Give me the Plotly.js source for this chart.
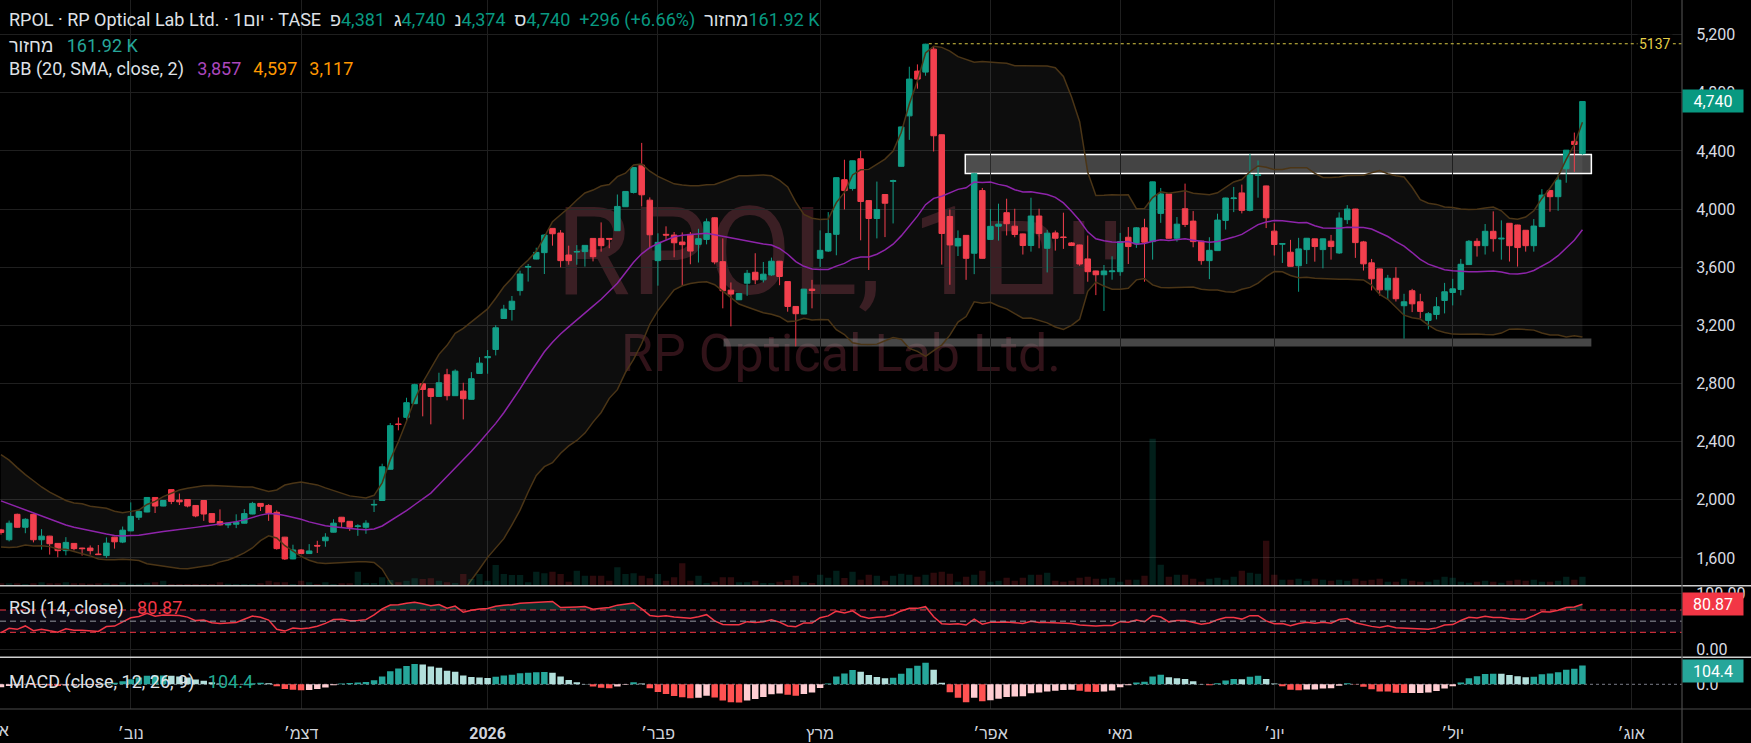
<!DOCTYPE html>
<html><head><meta charset="utf-8">
<script src="https://cdn.plot.ly/plotly-3.0.1.min.js"></script>
<style>
html,body{margin:0;padding:0;background:#000;overflow:hidden;}
#wrap{position:relative;width:1751px;height:743px;background:#000;}
.wm{position:absolute;left:0;width:1682px;text-align:center;color:#311319;font-family:Roboto,'Liberation Sans','DejaVu Sans',sans-serif;white-space:nowrap;line-height:1;}
#wm1{font-size:122px;top:192px;}
#wm2{font-size:52px;top:328px;}
#chart{position:absolute;left:0;top:0;width:1751px;height:743px;}
</style></head><body>
<div id="wrap"><div id="wm1" class="wm">RPOL, 1יום</div><div id="wm2" class="wm">RP Optical Lab Ltd.</div><div id="chart"></div></div>
<script>
// ---------------- data ----------------
const opens = [1793,1725,1900,1811,1900,1725,1750,1700,1650,1700,
1668,1668,1627,1616,1743,1709,1786,1880,1916,2016,
1957,2070,1998,2002,1961,1995,1905,1850,1827,1832,
1839,1902,1975,1961,1914,1743,1593,1655,1630,1686,
1718,1777,1880,1852,1816,1811,1964,1995,2210,2522,
2567,2661,2798,2764,2711,2860,2716,2748,2691,2869,
2977,3034,3247,3309,3439,3600,3656,3700,3867,3835,
3684,3704,3707,3798,3798,3798,3851,4016,4114,4302,
4061,3645,3826,3821,3773,3826,3757,3791,3940,3638,
3442,3376,3490,3565,3513,3547,3641,3501,3330,3278,
3449,3661,3711,3826,4202,4141,4346,4058,3935,4100,
4190,4294,4641,4949,4942,5100,4511,3949,3746,3819,
3696,4127,3791,3882,3975,3882,3829,3749,3952,3730,
3836,3808,3767,3753,3657,3574,3548,3569,3569,3806,
3760,3871,3776,3970,4104,3799,4002,3917,3779,3645,
3714,3922,4072,4111,3991,4232,4159,3848,3758,3703,
3610,3721,3795,3721,3779,3698,3927,4000,3774,3630,
3588,3444,3524,3335,3438,3362,3234,3275,3371,3426,
3447,3618,3778,3748,3847,3794,3902,3890,3854,3748,
3879,4128,4085,4277,4466,4381];
const highs = [1800,1857,1905,1873,1905,1798,1752,1702,1743,1702,
1670,1686,1689,1741,1745,1816,1982,1930,2018,2018,
1997,2072,2043,2004,1963,1997,1907,1934,1841,1900,
1936,1986,1977,1970,1927,1745,1691,1661,1695,1718,
1770,1866,1882,1854,1832,1859,2000,2248,2528,2566,
2702,2798,2800,2766,2874,2901,2897,2805,2878,2981,
3030,3201,3341,3402,3576,3622,3734,3828,3869,3855,
3748,3752,3752,3800,3908,3800,4100,4123,4288,4455,
4080,3833,3881,3842,3839,3842,3864,3935,3944,3798,
3495,3421,3581,3696,3636,3666,3643,3503,3332,3451,
3513,3853,3979,4218,4339,4334,4401,4060,4189,4102,
4202,4567,4979,4995,5137,5120,4513,3997,3853,3821,
4250,4145,4000,4037,4071,4002,3831,4078,4002,3857,
3852,3975,3772,3755,3818,3576,3615,3675,3836,3876,
3876,3933,4189,4145,4106,3945,4175,3986,3781,3806,
3968,4078,4152,4168,4380,4334,4161,3903,3764,3788,
3802,3801,3797,3797,3822,3977,4027,4002,3781,3657,
3590,3547,3600,3417,3451,3417,3291,3394,3492,3520,
3657,3787,3799,3897,3984,3922,3904,3892,3856,3931,
4137,4130,4233,4405,4526,4740];
const lows = [1760,1714,1808,1770,1707,1657,1623,1605,1618,1652,
1616,1623,1621,1600,1664,1702,1784,1861,1914,1909,
1955,1970,1964,1948,1880,1855,1843,1823,1805,1805,
1837,1900,1923,1855,1657,1586,1591,1627,1628,1634,
1677,1775,1811,1786,1752,1766,1916,1993,2208,2478,
2547,2659,2574,2519,2707,2684,2714,2553,2689,2867,
2867,2993,3245,3233,3405,3501,3654,3553,3748,3599,
3617,3617,3604,3640,3707,3730,3849,4014,4107,4018,
3732,3473,3789,3668,3473,3620,3632,3757,3620,3317,
3193,3374,3403,3483,3495,3540,3476,3294,3055,3276,
3317,3602,3705,3682,3997,4127,3785,3581,3798,3807,
3901,4292,4476,4828,4917,4396,3618,3479,3677,3513,
3552,3659,3789,3783,3818,3806,3687,3707,3730,3564,
3714,3726,3745,3610,3500,3408,3299,3514,3541,3622,
3733,3500,3652,3905,3797,3776,3876,3737,3617,3518,
3712,3859,3979,3970,3984,4078,3869,3680,3629,3604,
3431,3622,3638,3592,3652,3691,3897,3664,3577,3440,
3405,3378,3364,3108,3291,3246,3172,3241,3282,3337,
3406,3616,3673,3687,3707,3652,3639,3604,3707,3707,
3877,3982,3988,4181,4256,4374];
const closes = [1775,1839,1811,1866,1725,1750,1698,1650,1707,1664,
1664,1650,1623,1702,1711,1791,1886,1920,2016,1957,
1995,1989,1986,1957,1889,1902,1845,1827,1839,1845,
1905,1975,1955,1907,1664,1593,1655,1630,1648,1682,
1743,1839,1848,1811,1820,1839,1968,2227,2510,2518,
2668,2792,2759,2711,2805,2716,2885,2695,2833,2940,
2985,3183,3311,3366,3553,3605,3702,3821,3830,3645,
3645,3708,3750,3672,3748,3793,4018,4121,4286,4098,
3823,3771,3821,3768,3755,3711,3796,3912,3636,3438,
3415,3419,3558,3513,3552,3641,3536,3330,3280,3449,
3440,3716,3832,4216,4127,4332,4052,3935,3997,4040,
4195,4565,4894,4894,5134,4504,3832,3753,3798,3661,
4243,3661,3881,3896,3899,3825,3749,3952,3832,3834,
3799,3804,3749,3622,3569,3548,3574,3574,3776,3742,
3871,3772,4187,4104,3799,3896,3894,3776,3645,3716,
3924,4076,4076,3991,4235,4235,3940,3756,3762,3606,
3726,3799,3742,3795,3742,3938,4000,3769,3623,3520,
3444,3524,3383,3362,3348,3296,3280,3328,3431,3451,
3620,3778,3748,3847,3796,3799,3748,3735,3748,3883,
4096,4085,4199,4405,4444,4740];
// volume, thousands of shares
const volumes = [42,42,42,30,42,60,42,42,60,42,
42,36,42,42,36,60,36,36,54,60,
90,30,30,30,30,30,30,60,36,30,
30,30,42,90,60,60,30,90,60,30,
60,30,42,42,252,48,48,150,102,60,
90,132,120,132,90,60,48,210,120,210,
90,372,210,192,192,60,252,222,252,210,
72,270,180,180,180,90,330,210,222,180,
132,210,90,150,402,90,180,48,72,150,
150,60,60,90,48,48,72,102,180,60,
48,198,144,270,138,252,108,198,180,90,
180,216,198,162,198,234,252,216,72,162,
198,270,72,90,144,90,144,198,198,234,
90,72,90,144,162,126,126,144,72,108,
108,180,2646,378,162,198,198,126,72,126,
144,108,162,270,234,216,810,198,108,108,
126,90,126,108,90,108,90,126,90,108,
126,72,72,126,90,72,72,108,162,144,
72,54,72,90,72,54,90,108,90,108,
72,72,90,162,108,161.92];
// estimated sessions before the visible window (only seed the indicators)
const priorCloses = [2100,2150,2180,2160,2220,2250,2230,2280,2300,2270,
2320,2340,2300,2280,2320,2350,2300,2280,2300,2270,
2260,2250,2280,2230,2200,2160,2120,2080,2040,
1980,1900,1950,1880,1850,1900,1870,1830,1880,1850,1830];
const monthIdx  = [16,37,60,81,101,122,138,157,179,201];
const monthText = ['נוב׳','דצמ׳','2026','פבר׳','מרץ','אפר׳','מאי','יונ׳','יול׳','אוג׳'];
const octLabel = 'אוק׳';
const priceTicks = [1600,2000,2400,2800,3200,3600,4000,4400,4800,5200];
const bbLegend = [3857,4597,3117];   // basis, upper, lower
const rsiLast = 80.87;
const macdLast = 104.4;
const resistanceZone = {from:118.9, to:196.1, low:4245, high:4375};
const supportZone = {from:89.1, to:196.1, low:3055, high:3110};

// ---------------- indicators ----------------
const n = closes.length, last = n - 1;
const idx = closes.map((_, i) => i);
const all = priorCloses.concat(closes);
const off = priorCloses.length;
const bbMid = [], bbUp = [], bbLo = [];
for (let i = 0; i < n; i++) {
  const j = i + off, w = all.slice(j - 19, j + 1);
  const m = w.reduce((a, b) => a + b, 0) / 20;
  const sd = Math.sqrt(w.reduce((a, b) => a + (b - m) * (b - m), 0) / 20);
  bbMid.push(m); bbUp.push(m + 2 * sd); bbLo.push(m - 2 * sd);
}
let ag = 0, al = 0; const rsiAll = [];
for (let j = 1; j < all.length; j++) {
  const d = all[j] - all[j - 1], g = Math.max(d, 0), l = Math.max(-d, 0);
  if (j <= 14) { ag += g / 14; al += l / 14; } else { ag = (ag * 13 + g) / 14; al = (al * 13 + l) / 14; }
  rsiAll[j] = al === 0 ? 100 : 100 - 100 / (1 + ag / al);
}
const rsi = idx.map(i => rsiAll[i + off]);
function ema(arr, p) { const k = 2 / (p + 1); const out = []; let e = arr[0];
  arr.forEach((v, i) => { e = i === 0 ? v : v * k + e * (1 - k); out.push(e); }); return out; }
const e12 = ema(all, 12), e26 = ema(all, 26);
const macdLine = all.map((v, i) => e12[i] - e26[i]);
const sig = ema(macdLine, 9);
const histAll = macdLine.map((v, i) => v - sig[i]);
const hist = idx.map(i => histAll[i + off]);
const histCol = idx.map(i => { const h = histAll[i + off], p = histAll[i + off - 1];
  return h >= 0 ? (p < h ? '#26a69a' : '#b2dfdb') : (p < h ? '#ffcdd2' : '#ff5252'); });

// ---------------- style ----------------
const UP = '#089981', DN = '#f23645', GRID = '#1f1f1f', TXT = '#dfe1e6';
const FONT = "Roboto, 'Liberation Sans', 'DejaVu Sans', sans-serif";
const PW = 1682, PH = 709;                 // plot area in px
const py = px => (PH - px) / PH;           // px from top -> paper y
const pxX = px => px / PW;
const mainBot = 585.7, rsiBot = 657.3;
const RLM = '\u200F', LRM = '\u200E', SP = '\u00A0';
const GAP = SP + SP, VGAP = SP + SP + SP, VGAP2 = SP + SP + '\u2006';
const hebLabel = t => /[\u0590-\u05FF]/.test(t) ? t + RLM : '<b>' + t + '</b>';
const volCol = idx.map(i => closes[i] >= opens[i] ? 'rgba(8,153,129,0.2)' : 'rgba(242,54,69,0.18)');
const fmt = v => Math.round(v).toLocaleString('en-US');

const traces = [
  {type:'bar', x:idx, y:volumes, yaxis:'y2', marker:{color:volCol, line:{width:0}}, width:0.78, hoverinfo:'skip'},
  {type:'scatter', mode:'lines', x:idx, y:bbLo, line:{color:'#4b3516', width:1.5}, hoverinfo:'skip'},
  {type:'scatter', mode:'lines', x:idx, y:bbUp, line:{color:'#4b3516', width:1.5}, fill:'tonexty', fillcolor:'rgba(255,255,255,0.05)', hoverinfo:'skip'},
  {type:'scatter', mode:'lines', x:idx, y:bbMid, line:{color:'#8e24aa', width:1.5}, hoverinfo:'skip'},
  {type:'candlestick', x:idx, open:opens, high:highs, low:lows, close:closes,
   increasing:{line:{color:UP, width:1}, fillcolor:UP}, decreasing:{line:{color:DN, width:1}, fillcolor:DN},
   whiskerwidth:0, hoverinfo:'skip'},
  {type:'scatter', mode:'lines', x:idx, y:idx.map(() => 70), yaxis:'y3', line:{width:0}, hoverinfo:'skip'},
  {type:'scatter', mode:'lines', x:idx, y:rsi.map(v => Math.max(v, 70)), yaxis:'y3', line:{width:0}, fill:'tonexty', fillcolor:'rgba(38,166,154,0.28)', hoverinfo:'skip'},
  {type:'scatter', mode:'lines', x:idx, y:rsi, yaxis:'y3', line:{color:'#f23645', width:1.5}, hoverinfo:'skip'},
  {type:'bar', x:idx, y:hist, yaxis:'y4', marker:{color:histCol, line:{width:0}}, width:0.8, hoverinfo:'skip'}
];

const peakIdx = highs.indexOf(Math.max(...highs));
const xMin = -1 / 8.11, xMax = (PW - 1) / 8.11;
const shapes = [
  {type:'rect', xref:'paper', x0:0, x1:1, yref:'y3', y0:30, y1:70, fillcolor:'rgba(126,87,194,0.1)', line:{width:0}, layer:'below'},
  {type:'line', xref:'paper', x0:0, x1:1, yref:'y3', y0:70, y1:70, line:{color:'#f23645', width:1, dash:'6px,4px'}},
  {type:'line', xref:'paper', x0:0, x1:1, yref:'y3', y0:50, y1:50, line:{color:'#9598a1', width:1, dash:'6px,4px'}},
  {type:'line', xref:'paper', x0:0, x1:1, yref:'y3', y0:30, y1:30, line:{color:'#f23645', width:1, dash:'6px,4px'}},
  {type:'line', xref:'paper', x0:0, x1:1, yref:'y4', y0:0, y1:0, line:{color:'#787b86', width:1, dash:'3px,3px'}, layer:'below'},
  {type:'rect', xref:'x', x0:supportZone.from, x1:supportZone.to, yref:'y', y0:supportZone.low, y1:supportZone.high, fillcolor:'rgba(128,128,128,0.55)', line:{width:0}, layer:'below'},
  {type:'rect', xref:'x', x0:resistanceZone.from, x1:resistanceZone.to, yref:'y', y0:resistanceZone.low, y1:resistanceZone.high, fillcolor:'rgba(110,110,110,0.62)', line:{color:'#ffffff', width:1.5}, layer:'below'},
  {type:'line', xref:'x', x0:peakIdx + 0.4, x1:xMax, yref:'y', y0:highs[peakIdx], y1:highs[peakIdx], line:{color:'#d9c845', width:1, dash:'dot'}},
  {type:'line', xref:'paper', x0:0, x1:1751 / PW, yref:'paper', y0:py(mainBot), y1:py(mainBot), line:{color:'#cfcfcf', width:1.5}},
  {type:'line', xref:'paper', x0:0, x1:1751 / PW, yref:'paper', y0:py(rsiBot), y1:py(rsiBot), line:{color:'#cfcfcf', width:1.5}},
  {type:'line', xref:'paper', x0:0, x1:1751 / PW, yref:'paper', y0:0, y1:0, line:{color:'#4a4a4a', width:1.2}},
  {type:'line', xref:'paper', x0:1, x1:1, yref:'paper', y0:-34 / PH, y1:1, line:{color:'#4a4a4a', width:1.2}}
];

const chg = closes[last] - closes[last - 1];
const pct = (chg / closes[last - 1] * 100).toFixed(2);
const sgn = chg >= 0 ? '+' : '−';
const cc = chg >= 0 ? UP : DN;
const volTxt = volumes[last].toFixed(2) + SP + 'K';
const seg = (lab, v) => `${lab}${LRM}<span style="color:${cc}">${fmt(v)}</span>${GAP}`;
const hdr1 = `RPOL · RP Optical Lab Ltd. · 1יום · TASE${GAP}` + seg('פ', opens[last]) + seg('ג', highs[last]) +
  seg('נ', lows[last]) + seg('ס', closes[last]) +
  `<span style="color:${cc}">${sgn}${fmt(Math.abs(chg))} (${sgn}${pct}%)</span>${GAP}מחזור${LRM}<span style="color:${cc}">${volTxt}</span>`;
const hdr2 = `מחזור${LRM}${VGAP}<span style="color:#26a69a">${volTxt}</span>`;
const hdr3 = `BB (20, SMA, close, 2)${VGAP}<span style="color:#ab47bc">${fmt(bbLegend[0])}</span>${VGAP2}<span style="color:#ff9800">${fmt(bbLegend[1])}</span>${VGAP2}<span style="color:#ff9800">${fmt(bbLegend[2])}</span>`;
const legend = (text, ypx) => ({xref:'paper', yref:'paper', x:pxX(7), y:py(ypx), xanchor:'left', yanchor:'middle', text, showarrow:false, align:'left', font:{family:FONT, size:18, color:TXT}});
const badge = (text, yref, y, bg, yshift) => ({xref:'paper', x:1, xanchor:'left', yref, y, yanchor:'middle', yshift:yshift || 0, text, showarrow:false,
  bgcolor:bg, width:58, height:20, borderpad:1, font:{family:FONT, size:16, color:'#ffffff'}});
const annotations = [
  legend(hdr1, 20), legend(hdr2, 45), legend(hdr3, 69),
  legend(`RSI (14, close)${VGAP}<span style="color:#f23645">${rsiLast.toFixed(2)}</span>`, 608),
  legend(`MACD (close, 12, 26, 9)${VGAP}<span style="color:#22ab94">${macdLast.toFixed(1)}</span>`, 682),
  {xref:'paper', x:pxX(1673), xanchor:'right', yref:'y', y:highs[peakIdx], yanchor:'middle', text:String(highs[peakIdx]), showarrow:false,
   bgcolor:'#000000', borderpad:1, font:{family:FONT, size:14, color:'#e5cf48'}},
  badge(fmt(closes[last]), 'y', closes[last], UP),
  badge(rsiLast.toFixed(2), 'y3', rsiLast, '#f23645'),
  badge(macdLast.toFixed(1), 'y4', macdLast, '#26a69a', -5),
  {xref:'paper', x:pxX(-6), xanchor:'center', yref:'paper', y:py(730), yanchor:'middle', text:octLabel + RLM, showarrow:false, font:{family:FONT, size:16, color:'#d1d4dc'}}
];

const axY = {side:'right', anchor:'x', zeroline:false, ticks:'outside', ticklen:10, tickcolor:'rgba(0,0,0,0)',
  tickfont:{family:FONT, size:16, color:'#d9dce3'}, showline:false, fixedrange:true};
const layout = {
  width:1751, height:743, margin:{l:0, r:69, t:0, b:34},
  paper_bgcolor:'rgba(0,0,0,0)', plot_bgcolor:'rgba(0,0,0,0)',
  showlegend:false, hovermode:false, boxgap:0.2, boxgroupgap:0.15,
  font:{family:FONT, size:16, color:'#d1d4dc'},
  xaxis:{range:[xMin, xMax], anchor:'y4', tickmode:'array', tickvals:monthIdx, ticktext:monthText.map(hebLabel),
    showgrid:true, gridcolor:GRID, zeroline:false, ticks:'outside', ticklen:10, tickcolor:'rgba(0,0,0,0)',
    tickfont:{family:FONT, size:16, color:'#d1d4dc'}, rangeslider:{visible:false}, showline:false, fixedrange:true},
  yaxis:Object.assign({}, axY, {domain:[py(mainBot), 1], range:[1409, 5438], tickmode:'array', tickvals:priceTicks, tickformat:',d', showgrid:true, gridcolor:GRID}),
  yaxis2:{overlaying:'y', range:[0, mainBot * 18], visible:false, fixedrange:true},
  yaxis3:Object.assign({}, axY, {domain:[py(rsiBot), py(mainBot)], range:[-14.8, 113.6], tickmode:'array', tickvals:[0, 100], tickformat:'.2f', showgrid:true, gridcolor:GRID}),
  yaxis4:Object.assign({}, axY, {domain:[0, py(rsiBot)], range:[-138, 151], tickmode:'array', tickvals:[0], tickformat:'.1f', showgrid:false}),
  shapes, annotations
};
Plotly.newPlot('chart', traces, layout, {staticPlot:true, displayModeBar:false});
</script>
</body></html>
